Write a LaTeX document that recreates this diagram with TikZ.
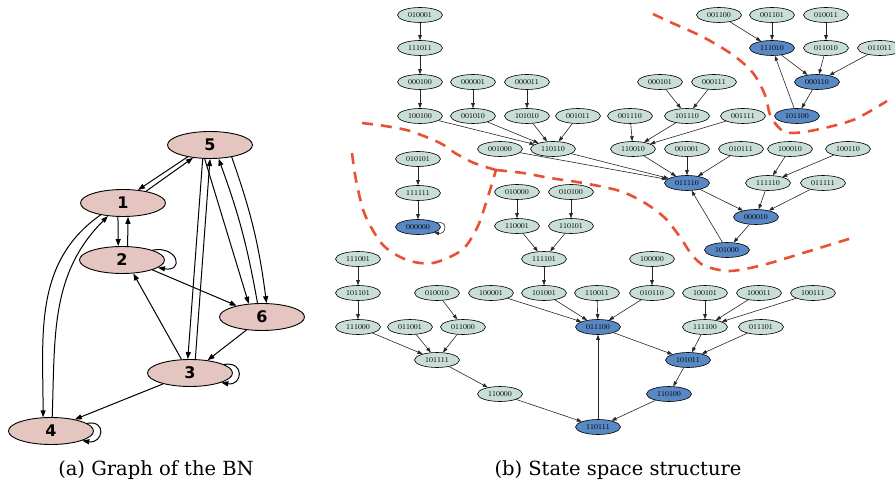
\documentclass[tikz,border=0pt]{standalone}
\usepackage{fontspec}
\usetikzlibrary{shapes.geometric,arrows.meta}
\newfontfamily\bnfont{DejaVu Sans}
\newfontfamily\capfont{DejaVu Serif}

\definecolor{bnpink}{RGB}{228,197,192}
\definecolor{stgray}{RGB}{201,222,214}
\definecolor{stblue}{RGB}{88,137,196}
\definecolor{basin}{RGB}{234,80,52}

\tikzset{gene/.style={ellipse,draw,line width=0.9pt,fill=bnpink,minimum width=85pt,minimum height=27pt,inner sep=0pt,font={\bnfont\bfseries\fontsize{16}{16}\selectfont}},
  infl/.style={line width=1pt,-{Triangle[length=7pt,width=5pt]}},
  stnode/.style={ellipse,draw,line width=0.6pt,fill=stgray,minimum width=45pt,minimum height=15pt,inner sep=0pt,font={\fontsize{7.5}{8}\selectfont}},
  attr/.style={stnode,fill=stblue},
  tr/.style={line width=0.6pt,black!85,-{Triangle[length=5pt,width=3.6pt]}},
  basinline/.style={basin,line width=2.6pt,dash pattern=on 11pt off 8pt},
  subcap/.style={font={\capfont\fontsize{19.5}{22}\selectfont}}}

\begin{document}
\begin{tikzpicture}[x=1pt,y=-1pt]
  \useasboundingbox (0,0) rectangle (895,492);

  % regulatory graph
  \node[gene] (g5) at (210,145) {5};
  \node[gene] (g1) at (123,203) {1};
  \node[gene] (g2) at (122,260) {2};
  \node[gene] (g6) at (262,317) {6};
  \node[gene] (g3) at (190,373) {3};
  \node[gene] (g4) at (51,431) {4};

  \draw[infl] (g5.-152) -- (g1.41);
  \draw[infl] (g1.27) -- (g5.-143);
  \draw[infl] (g1.-110) -- (g2.105);
  \draw[infl] (g2.68) -- (g1.-70);
  \draw[infl] (g2.18) to[out=10,in=-10,looseness=3.7] (g2.-12);
  \draw[infl] (g2.-18) -- (g6.156);
  \draw[infl] (g3.122) -- (g2.-50);
  \draw[infl] (g5.-118) -- (g3.99);
  \draw[infl] (g3.69) -- (g5.-90);
  \draw[infl] (g5.-111) -- (g6.135);
  \draw[infl] (g6.108) to[bend right=5] (g5.-58);
  \draw[infl] (g5.-29) to[bend left=6] (g6.72);
  \draw[infl] (g6.-140) -- (g3.36);
  \draw[infl] (g3.14) to[out=10,in=-10,looseness=3] (g3.-17);
  \draw[infl] (g3.-158) -- (g4.26);
  \draw[infl] (g4.12) to[out=10,in=-10,looseness=3] (g4.-17);
  \draw[infl] (g1.-152) to[out=-145,in=90] (g4.120);
  \draw[infl] (g4.85) to[out=88,in=225] (g1.-139);

  % state transition graph
  \node[stnode] (s010001) at (420,15) {010001};
  \node[stnode] (s001100) at (719,15) {001100};
  \node[stnode] (s001101) at (772,15) {001101};
  \node[stnode] (s010011) at (826,15) {010011};
  \node[stnode] (s111011) at (420,48) {111011};
  \node[attr]   (s111010) at (772,48) {111010};
  \node[stnode] (s011010) at (826,48) {011010};
  \node[stnode] (s011011) at (880,48) {011011};
  \node[stnode] (s000100) at (420,82) {000100};
  \node[stnode] (s000001) at (473,82) {000001};
  \node[stnode] (s000011) at (527,82) {000011};
  \node[stnode] (s000101) at (660,82) {000101};
  \node[stnode] (s000111) at (714,82) {000111};
  \node[attr]   (s000110) at (817,82) {000110};
  \node[stnode] (s100100) at (420,116) {100100};
  \node[stnode] (s001010) at (473,116) {001010};
  \node[stnode] (s101010) at (527,116) {101010};
  \node[stnode] (s001011) at (578,116) {001011};
  \node[stnode] (s001110) at (630,116) {001110};
  \node[stnode] (s101110) at (687,116) {101110};
  \node[stnode] (s001111) at (743,116) {001111};
  \node[attr]   (s101100) at (797,116) {101100};
  \node[stnode] (s001000) at (500,149) {001000};
  \node[stnode] (s110110) at (553,149) {110110};
  \node[stnode] (s110010) at (633,149) {110010};
  \node[stnode] (s001001) at (687,149) {001001};
  \node[stnode] (s010111) at (741,149) {010111};
  \node[stnode] (s100010) at (790,149) {100010};
  \node[stnode] (s100110) at (848,149) {100110};
  \node[stnode] (s010101) at (418,159) {010101};
  \node[attr]   (s011110) at (687,183) {011110};
  \node[stnode] (s111110) at (768,183) {111110};
  \node[stnode] (s011111) at (823,183) {011111};
  \node[stnode] (s111111) at (418,193) {111111};
  \node[stnode] (s010000) at (517,192) {010000};
  \node[stnode] (s010100) at (571,192) {010100};
  \node[attr]   (s000010) at (756,217) {000010};
  \node[attr]   (s000000) at (418,227) {000000};
  \node[stnode] (s110001) at (517,226) {110001};
  \node[stnode] (s110101) at (571,226) {110101};
  \node[attr]   (s101000) at (727,250) {101000};
  \node[stnode] (s111001) at (358,259) {111001};
  \node[stnode] (s111101) at (544,259) {111101};
  \node[stnode] (s100000) at (652,259) {100000};
  \node[stnode] (s101101) at (358,293) {101101};
  \node[stnode] (s010010) at (437,293) {010010};
  \node[stnode] (s100001) at (491,293) {100001};
  \node[stnode] (s101001) at (544,293) {101001};
  \node[stnode] (s110011) at (597,293) {110011};
  \node[stnode] (s010110) at (652,293) {010110};
  \node[stnode] (s100101) at (705,293) {100101};
  \node[stnode] (s100011) at (759,293) {100011};
  \node[stnode] (s100111) at (813,293) {100111};
  \node[stnode] (s111000) at (358,327) {111000};
  \node[stnode] (s011001) at (410,327) {011001};
  \node[stnode] (s011000) at (463,327) {011000};
  \node[attr]   (s011100) at (598,327) {011100};
  \node[stnode] (s111100) at (705,327) {111100};
  \node[stnode] (s011101) at (761,327) {011101};
  \node[stnode] (s101111) at (437,360) {101111};
  \node[attr]   (s101011) at (688,360) {101011};
  \node[stnode] (s110000) at (500,394) {110000};
  \node[attr]   (s110100) at (669,394) {110100};
  \node[attr]   (s110111) at (598,427) {110111};

  \draw[tr] (s010001) -- (s111011);
  \draw[tr] (s111011) -- (s000100);
  \draw[tr] (s000100) -- (s100100);
  \draw[tr] (s000001) -- (s001010);
  \draw[tr] (s000011) -- (s101010);
  \draw[tr] (s100100) -- (s110110);
  \draw[tr] (s001010) -- (s110110);
  \draw[tr] (s101010) -- (s110110);
  \draw[tr] (s001011) -- (s110110);
  \draw[tr] (s001100) -- (s111010);
  \draw[tr] (s001101) -- (s111010);
  \draw[tr] (s010011) -- (s011010);
  \draw[tr] (s111010) -- (s000110);
  \draw[tr] (s011010) -- (s000110);
  \draw[tr] (s011011) -- (s000110);
  \draw[tr] (s000110) -- (s101100);
  \draw[tr] (s101100) -- (s111010);
  \draw[tr] (s000101) -- (s101110);
  \draw[tr] (s000111) -- (s101110);
  \draw[tr] (s001110) -- (s110010);
  \draw[tr] (s101110) -- (s110010);
  \draw[tr] (s001111) -- (s110010);
  \draw[tr] (s110110) -- (s011110);
  \draw[tr] (s001000) -- (s011110);
  \draw[tr] (s110010) -- (s011110);
  \draw[tr] (s001001) -- (s011110);
  \draw[tr] (s010111) -- (s011110);
  \draw[tr] (s100010) -- (s111110);
  \draw[tr] (s100110) -- (s111110);
  \draw[tr] (s011110) -- (s000010);
  \draw[tr] (s111110) -- (s000010);
  \draw[tr] (s011111) -- (s000010);
  \draw[tr] (s000010) -- (s101000);
  \draw[tr] (s101000) -- (s011110);
  \draw[tr] (s010101) -- (s111111);
  \draw[tr] (s111111) -- (s000000);
  \draw[tr] (s000000.13) to[out=10,in=-10,looseness=3] (s000000.-19);
  \draw[tr] (s010000) -- (s110001);
  \draw[tr] (s010100) -- (s110101);
  \draw[tr] (s110001) -- (s111101);
  \draw[tr] (s110101) -- (s111101);
  \draw[tr] (s111101) -- (s101001);
  \draw[tr] (s100000) -- (s010110);
  \draw[tr] (s111001) -- (s101101);
  \draw[tr] (s101101) -- (s111000);
  \draw[tr] (s010010) -- (s011000);
  \draw[tr] (s111000) -- (s101111);
  \draw[tr] (s011001) -- (s101111);
  \draw[tr] (s011000) -- (s101111);
  \draw[tr] (s101111) -- (s110000);
  \draw[tr] (s100001) -- (s011100);
  \draw[tr] (s101001) -- (s011100);
  \draw[tr] (s110011) -- (s011100);
  \draw[tr] (s010110) -- (s011100);
  \draw[tr] (s100101) -- (s111100);
  \draw[tr] (s100011) -- (s111100);
  \draw[tr] (s100111) -- (s111100);
  \draw[tr] (s011100) -- (s101011);
  \draw[tr] (s111100) -- (s101011);
  \draw[tr] (s011101) -- (s101011);
  \draw[tr] (s101011) -- (s110100);
  \draw[tr] (s110000) -- (s110111);
  \draw[tr] (s110100) -- (s110111);
  \draw[tr] (s110111) -- (s011100);

  % basin borders
  \draw[basinline] plot[smooth] coordinates {(653,14) (670,22) (703,37) (733,55) (753,73) (765,95) (771,117) (785,132) (810,131) (853,120) (887,101)};
  \draw[basinline] plot[smooth] coordinates {(362,123) (385,126) (410,131) (440,143) (455,153) (474,163) (496,170)};
  \draw[basinline] plot[smooth] coordinates {(352,153) (356,180) (365,215) (383,245) (407,260) (433,263) (462,250) (477,228) (486,203) (496,170)};
  \draw[basinline] plot[smooth] coordinates {(496,170) (523,173) (550,178) (583,183) (620,191) (645,203) (665,218) (680,237) (692,255) (705,266) (730,271) (763,265) (803,253) (852,238)};

  \node[subcap] (capa) at (156,470) {(a) Graph of the BN};
  \node[subcap] (capb) at (618,470) {(b) State space structure};
\end{tikzpicture}
\end{document}
